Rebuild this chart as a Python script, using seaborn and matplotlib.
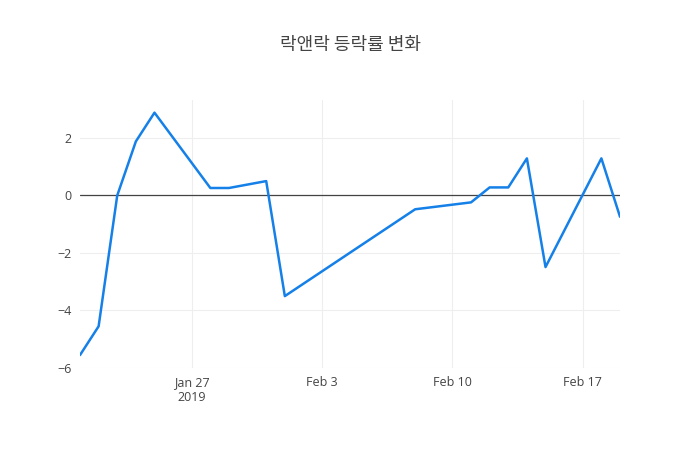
import pandas as pd
import seaborn as sns
import matplotlib.pyplot as plt

# daily change rate (%)
dates = ["2019-01-21", "2019-01-22", "2019-01-23", "2019-01-24", "2019-01-25",
         "2019-01-28", "2019-01-29", "2019-01-31", "2019-02-01", "2019-02-08",
         "2019-02-11", "2019-02-12", "2019-02-13", "2019-02-14", "2019-02-15",
         "2019-02-18", "2019-02-19"]
rates = [-5.55, -4.55, 0.0, 1.88, 2.88,
         0.26, 0.26, 0.5, -3.5, -0.48,
         -0.24, 0.28, 0.28, 1.29, -2.49,
         1.29, -0.74]
tick_dates = ["2019-01-27", "2019-02-03", "2019-02-10", "2019-02-17"]
tick_labels = ["Jan 27\n2019", "Feb 3", "Feb 10", "Feb 17"]
title = "락앤락 등락률 변화"

df = pd.DataFrame({"date": pd.to_datetime(dates), "rate": rates})

sns.set_style("white")
plt.rcParams['font.family'] = ['Open Sans', 'Noto Sans CJK KR', 'DejaVu Sans']

fig = plt.figure(figsize=(7, 4.5), dpi=100)
ax = fig.add_axes([80 / 700, 82 / 450, 540 / 700, 268 / 450])

sns.lineplot(data=df, x="date", y="rate", ax=ax, color="#1580e8", linewidth=1.8)

ax.axhline(0, color="#444444", linewidth=0.9, zorder=1)
ax.set_xlim(df["date"].min(), df["date"].max())
ax.set_ylim(-6.0, 3.32)
ax.set_yticks([-6, -4, -2, 0, 2])
ax.set_xticks(pd.to_datetime(tick_dates))
ax.set_xticklabels(tick_labels)
ax.grid(True, color="#eeeeee", linewidth=0.8)
ax.set_axisbelow(True)
for s in ax.spines.values():
    s.set_visible(False)
ax.tick_params(length=0, labelsize=9, colors="#444444", pad=6)
ax.set_xlabel("")
ax.set_ylabel("")

fig.text(0.5, 1 - 45 / 450, title, ha="center", va="center", fontsize=13,
         color="#444444", family=['Noto Sans CJK KR', 'DejaVu Sans'])

fig.savefig("out.png", dpi=100)
